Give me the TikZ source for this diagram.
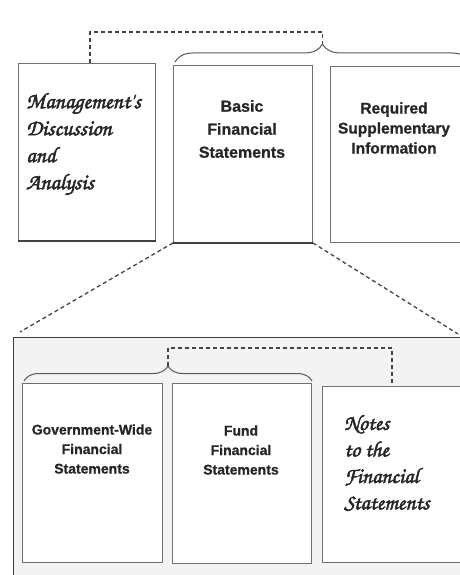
\documentclass[tikz,border=0pt]{standalone}
\usepackage{fontspec}
\setmainfont{Liberation Sans}[BoldFeatures={FakeBold=0.8}]
\newfontfamily\scrfont[FakeBold=2.2]{texgyrechorus-mediumitalic.otf}
\usetikzlibrary{decorations.pathreplacing}
\definecolor{boxline}{HTML}{707070}
\definecolor{dashline}{HTML}{444444}
\definecolor{panelfill}{HTML}{F3F3F3}
\tikzset{
  panel/.style={draw=boxline, line width=0.9pt, fill=white, rectangle, anchor=north west, inner sep=0pt},
  bigpanel/.style={draw=black!75, line width=1.3pt, fill=panelfill, rectangle, anchor=north west, inner sep=0pt},
  sanslabel/.style={align=center, inner sep=0pt, text=black!85, font=\bfseries},
  scriptlabel/.style={align=left, inner sep=0pt, anchor=west, text=black!85},
  dashconn/.style={draw=dashline, line width=1.3pt, dash pattern=on 4pt off 3pt},
  bracestyle/.style={draw=black!65, line width=1pt, decorate},
  heavyedge/.style={draw=black!75, line width=2pt}
}
\begin{document}
\begin{tikzpicture}[x=1pt,y=-1pt]
\useasboundingbox (0,0) rectangle (460,575);
\clip (0,0) rectangle (460,575);
\fill[white] (0,0) rectangle (460,575);
% top row
\node[panel, minimum width=137pt, minimum height=177pt] (mda) at (18,63) {};
\node[panel, minimum width=139pt, minimum height=177pt] (bfs) at (173,65) {};
\node[panel, minimum width=140pt, minimum height=176pt] (rsi) at (330,66) {};
\draw[heavyedge] (mda.south west) -- (mda.south east);
\draw[heavyedge] (bfs.south west) -- (bfs.south east);
\node[scriptlabel, font=\scrfont\fontsize{22.5}{27}\selectfont] (mdatext) at (26,144)
  {Management's\\Discussion\\and\\Analysis};
\node[sanslabel, font=\bfseries\fontsize{16}{23}\selectfont] (bfstext) at (242,129)
  {Basic\\Financial\\Statements};
\node[sanslabel, font=\bfseries\fontsize{15.5}{20}\selectfont] (rsitext) at (394,128)
  {Required\\Supplementary\\Information};
% top brace over Basic + RSI
\coordinate (braceAl) at (175,62);
\coordinate (braceAr) at (470,62);
\coordinate (braceAtip) at (322.5,44);
\draw[bracestyle, decoration={brace, amplitude=18pt}] (braceAl) -- (braceAr);
\coordinate (topL) at (90,32);
\coordinate (topR) at (322.5,32);
\draw[dashconn] (mda.north west -| topL) -- (topL) -- (topR) -- (braceAtip);
% big lower panel
\node[bigpanel, minimum width=470pt, minimum height=260pt] (big) at (13,337) {};
\coordinate (fanL) at (20,332);
\coordinate (fanR) at (458,334);
\draw[dashconn] (bfs.south west) -- (fanL);
\draw[dashconn] (bfs.south east) -- (fanR);
% lower row
\node[panel, minimum width=140pt, minimum height=179pt] (gw) at (22,383) {};
\node[panel, minimum width=139pt, minimum height=180pt] (fund) at (172,383) {};
\node[panel, minimum width=145pt, minimum height=176pt] (notes) at (322,386) {};
\node[sanslabel, font=\bfseries\fontsize{14}{19.5}\selectfont] (gwtext) at (92,449)
  {Government-Wide\\Financial\\Statements};
\node[sanslabel, font=\bfseries\fontsize{14}{19.5}\selectfont] (fundtext) at (241,450)
  {Fund\\Financial\\Statements};
\node[scriptlabel, font=\scrfont\fontsize{22}{26.5}\selectfont] (notestext) at (344,463)
  {Notes\\to the\\Financial\\Statements};
% lower brace over GW + Fund
\coordinate (braceBl) at (24,381);
\coordinate (braceBr) at (312,381);
\coordinate (braceBtip) at (168,366);
\draw[bracestyle, decoration={brace, amplitude=15pt}] (braceBl) -- (braceBr);
\coordinate (botL) at (168,348);
\coordinate (botR) at (392,348);
\draw[dashconn] (braceBtip) -- (botL) -- (botR) -- (notes.north west -| botR);
\end{tikzpicture}
\end{document}
